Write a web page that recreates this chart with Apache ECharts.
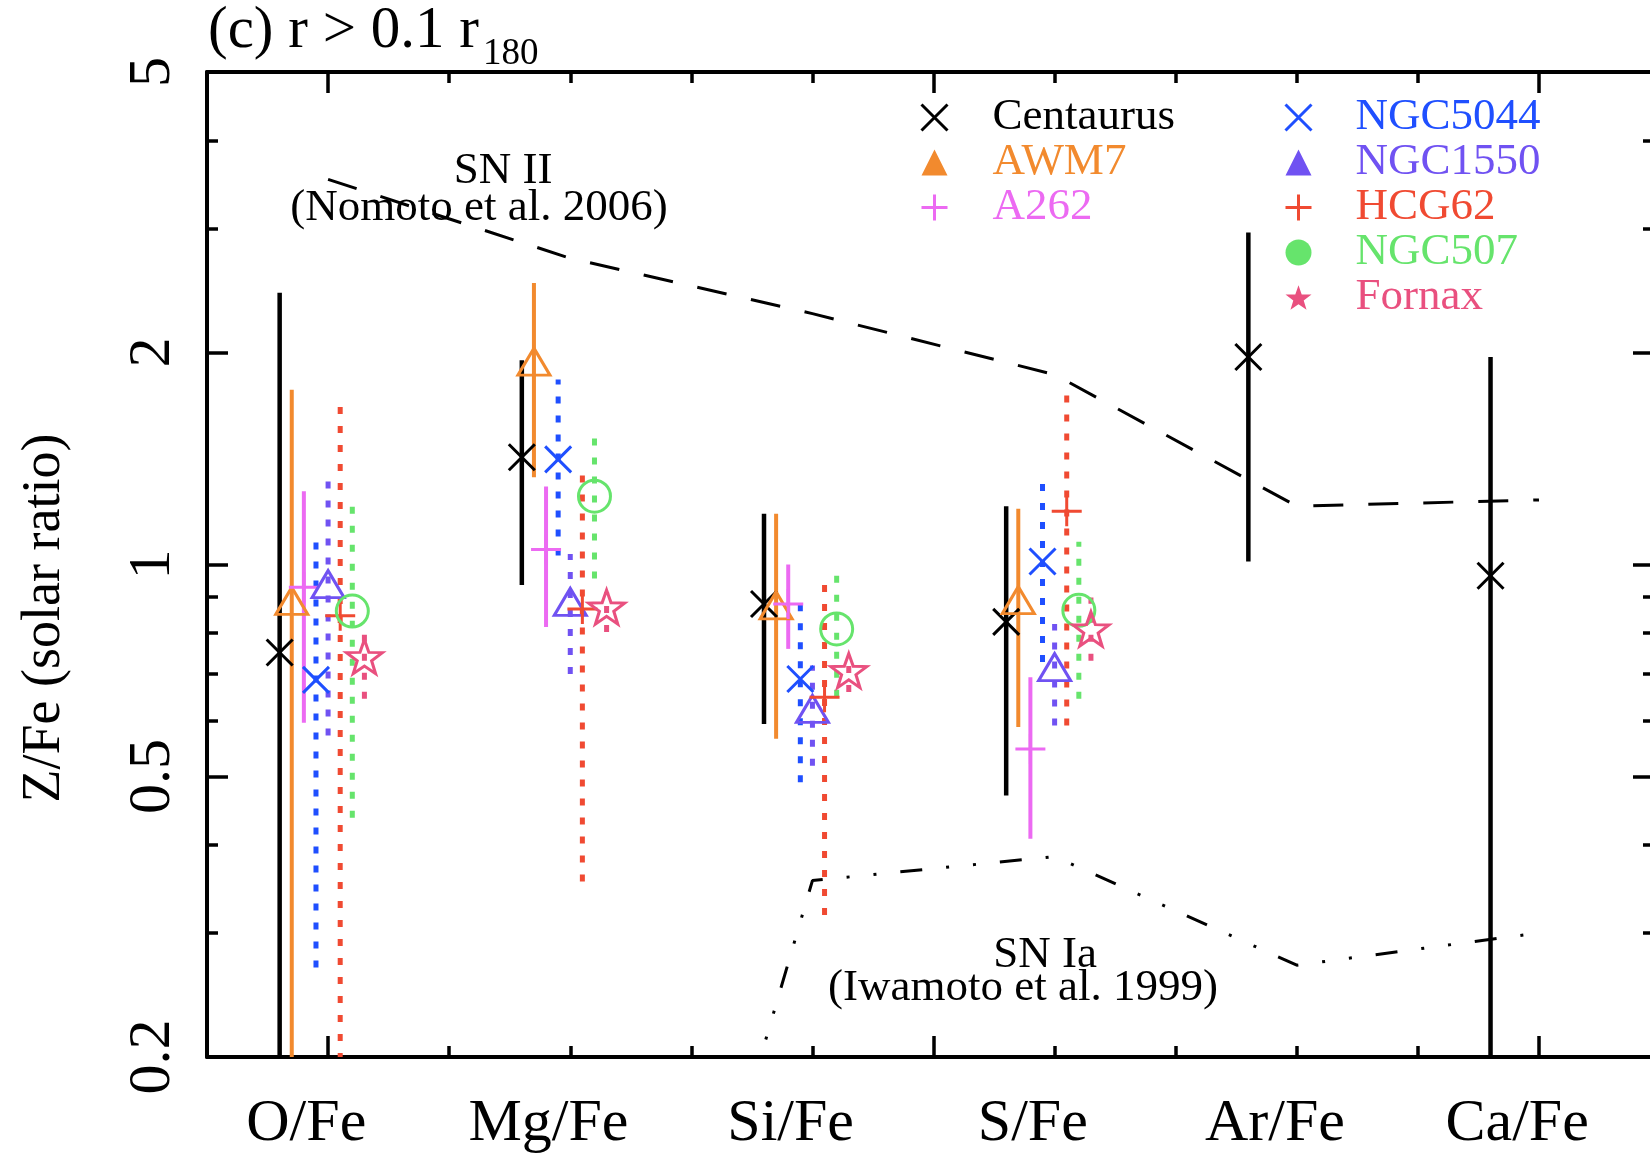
<!DOCTYPE html>
<html>
<head>
<meta charset="utf-8">
<script src="https://cdn.jsdelivr.net/npm/echarts@6/dist/echarts.min.js"></script>
<style>
  html, body { margin: 0; padding: 0; background: #ffffff; }
  #chart { width: 1650px; height: 1154px; }
</style>
</head>
<body>
<div id="chart"></div>
<script>
// ---- data ----
const ratios = ['O/Fe', 'Mg/Fe', 'Si/Fe', 'S/Fe', 'Ar/Fe', 'Ca/Fe'];
const yTickValues = [0.2, 0.5, 1, 2, 5];
const yMinorTickValues = [0.3, 0.4, 0.6, 0.7, 0.8, 0.9, 3, 4];
const xMajorTicks = [1, 6, 11];
const xMinorTicks = [2, 3, 4, 5, 7, 8, 9, 10];

// [Z/Fe, lower bound, upper bound] per ratio (solar units)
const centaurus = [[0.75, 0.1, 2.43], [1.42, 0.935, 1.95], [0.879, 0.594, 1.18], [0.829, 0.47, 1.21], [1.97, 1.01, 2.96], [0.964, 0.1, 1.97]];
const awm7      = [[0.888, 0.1, 1.77], [1.94, 1.33, 2.51], [0.875, 0.566, 1.18], [0.89, 0.588, 1.2]];
const a262      = [[0.928, 0.596, 1.27], [1.05, 0.815, 1.29], [0.879, 0.759, 1.0], [0.547, 0.408, 0.692]];
const ngc5044   = [[0.686, 0.268, 1.10], [1.41, 1.03, 1.83], [0.688, 0.491, 0.885], [1.01, 0.727, 1.32]];
const ngc1550   = [[0.938, 0.572, 1.33], [0.885, 0.699, 1.035], [0.624, 0.518, 0.719], [0.715, 0.591, 0.823]];
const hcg62     = [[0.846, 0.1, 1.73], [0.865, 0.355, 1.36], [0.648, 0.318, 0.945], [1.19, 0.591, 1.77]];
const ngc507    = [[0.859, 0.437, 1.23], [1.25, 0.955, 1.52], [0.81, 0.649, 0.964], [0.861, 0.645, 1.077]];
const fornax    = [[0.74, 0.645, 0.823], [0.87, 0.802, 0.914], [0.707, 0.659, 0.743], [0.81, 0.73, 0.898]];

// supernova yield models (Z/Fe, solar units)
const snII = [3.52, 2.72, 2.27, 1.86, 1.21, 1.235];
const snIa = [0.03, 0.024, 0.356, 0.385, 0.27, 0.30];

// ---- layout constants ----
const SERIF = '"Liberation Serif", "Times New Roman", serif';
const X_MAX = 11.95;
const GROUP_SPACING = 2;      // x distance between ratios
const GROUP_START = 0.6;      // x of first cluster inside a ratio slot
const CLUSTER_STEP = 0.1;     // x step between clusters
const MODEL_OFFSET = 1;       // x of model curves inside a ratio slot
const LABEL_OFFSET = 0.82;    // x of ratio label inside a slot

const PATH_X = 'path://M0,0L10,10M10,0L0,10';
const PATH_PLUS = 'path://M5,0L5,10M0,5L10,5';
const PATH_STAR = 'path://M10,0L12.35,6.76L19.51,6.91L13.8,11.24L15.88,18.09L10,14L4.12,18.09L6.2,11.24L0.49,6.91L7.65,6.76Z';
const DOTS = [7, 12];

const clusters = [
  { name: 'Centaurus', values: centaurus, color: '#000000', barWidth: 4.5, dash: 'solid', symbol: PATH_X,    size: 26,       legendIcon: PATH_X,     legendFilled: false },
  { name: 'AWM7',      values: awm7,      color: '#F28A2E', barWidth: 4,   dash: 'solid', symbol: 'triangle', size: [32, 27], legendIcon: 'triangle', legendFilled: true },
  { name: 'A262',      values: a262,      color: '#EC6AF2', barWidth: 4,   dash: 'solid', symbol: PATH_PLUS, size: 30,       legendIcon: PATH_PLUS,  legendFilled: false },
  { name: 'NGC5044',   values: ngc5044,   color: '#1F4FFF', barWidth: 5,   dash: DOTS,    symbol: PATH_X,    size: 26,       legendIcon: PATH_X,     legendFilled: false },
  { name: 'NGC1550',   values: ngc1550,   color: '#7052F2', barWidth: 5,   dash: DOTS,    symbol: 'triangle', size: [32, 27], legendIcon: 'triangle', legendFilled: true },
  { name: 'HCG62',     values: hcg62,     color: '#F04A32', barWidth: 5,   dash: DOTS,    symbol: PATH_PLUS, size: 30,       legendIcon: PATH_PLUS,  legendFilled: false },
  { name: 'NGC507',    values: ngc507,    color: '#66E46C', barWidth: 5,   dash: DOTS,    symbol: 'circle',  size: 32,       legendIcon: 'circle',   legendFilled: true },
  { name: 'Fornax',    values: fornax,    color: '#E9507F', barWidth: 5,   dash: DOTS,    symbol: PATH_STAR, size: [36, 34], legendIcon: PATH_STAR,  legendFilled: true }
];

const clusterX = (ratioIndex, clusterIndex) => GROUP_SPACING * ratioIndex + GROUP_START + CLUSTER_STEP * clusterIndex;

// ---- series ----
const errorBarSeries = clusters.map((c, ci) => ({
  name: c.name,
  type: 'custom',
  xAxisIndex: 0,
  yAxisIndex: 0,
  clip: true,
  silent: true,
  z: 2,
  encode: { x: 0, y: [1, 2] },
  data: c.values.map((v, ri) => [clusterX(ri, ci), v[1], v[2]]),
  renderItem: (params, api) => {
    const x = api.value(0);
    const lo = api.coord([x, api.value(1)]);
    const hi = api.coord([x, api.value(2)]);
    return {
      type: 'line',
      shape: { x1: lo[0], y1: lo[1], x2: hi[0], y2: hi[1] },
      style: {
        stroke: c.color,
        lineWidth: c.barWidth,
        lineDash: c.dash === 'solid' ? null : c.dash,
        lineCap: 'butt'
      }
    };
  }
}));

const markerSeries = clusters.map((c, ci) => ({
  name: c.name,
  type: 'scatter',
  xAxisIndex: 0,
  yAxisIndex: 0,
  silent: true,
  z: 3,
  symbol: c.symbol,
  symbolSize: c.size,
  itemStyle: { color: 'rgba(0,0,0,0)', borderColor: c.color, borderWidth: 3, opacity: 1 },
  data: c.values.map((v, ri) => [clusterX(ri, ci), v[0]])
}));

const modelSeries = [
  {
    name: 'SN II',
    type: 'line',
    xAxisIndex: 0, yAxisIndex: 0,
    silent: true, clip: true, z: 1,
    symbol: 'none',
    lineStyle: { color: '#000000', width: 3, type: [30, 25] },
    data: snII.map((v, i) => [GROUP_SPACING * i + MODEL_OFFSET, v])
  },
  {
    name: 'SN Ia',
    type: 'line',
    xAxisIndex: 0, yAxisIndex: 0,
    silent: true, clip: true, z: 1,
    symbol: 'none',
    lineStyle: { color: '#000000', width: 3, type: [22, 24, 3, 24, 3, 24] },
    data: snIa.map((v, i) => [GROUP_SPACING * i + MODEL_OFFSET, v])
  }
];

// ---- axes (gnuplot-style boxed frame with inward mirrored ticks) ----
const LINE = { color: '#000000', width: 4 };
const TICK_STYLE = { color: '#000000', width: 3.5 };

function xAxis(position, ticks, len, withLine, withLabels) {
  return {
    type: 'value', min: 0, max: X_MAX, position,
    axisLine: { show: withLine, onZero: false, lineStyle: LINE },
    axisTick: { show: true, inside: true, length: len, customValues: ticks, lineStyle: TICK_STYLE },
    axisLabel: withLabels ? {
      show: true,
      customValues: ratios.map((r, i) => GROUP_SPACING * i + LABEL_OFFSET),
      formatter: (val) => ratios[Math.round((val - LABEL_OFFSET) / GROUP_SPACING)],
      fontFamily: SERIF, fontSize: 60, lineHeight: 60, color: '#000000', margin: 37
    } : { show: false },
    splitLine: { show: false },
    minorTick: { show: false }
  };
}

function yAxis(position, ticks, len, withLine, withLabels) {
  return {
    type: 'log', logBase: 10, min: 0.2, max: 5, position,
    axisLine: { show: withLine, onZero: false, lineStyle: LINE },
    axisTick: { show: true, inside: true, length: len, customValues: ticks, lineStyle: TICK_STYLE },
    axisLabel: withLabels ? {
      show: true,
      customValues: yTickValues,
      rotate: 90,
      formatter: (val) => String(+Number(val).toPrecision(3)),
      fontFamily: SERIF, fontSize: 60, lineHeight: 60, color: '#000000', margin: 24
    } : { show: false },
    splitLine: { show: false },
    minorTick: { show: false }
  };
}

// ---- legend ----
function legendItems(names) {
  return names.map(n => {
    const c = clusters.find(k => k.name === n);
    return {
      name: n,
      icon: c.legendIcon,
      itemStyle: c.legendFilled
        ? { color: c.color, borderWidth: 0 }
        : { color: 'rgba(0,0,0,0)', borderColor: c.color, borderWidth: 3 },
      textStyle: { color: c.color }
    };
  });
}
const legendBase = {
  orient: 'vertical', padding: 0, itemGap: 0, itemWidth: 26, itemHeight: 26,
  selectedMode: false,
  textStyle: { fontFamily: SERIF, fontSize: 45, lineHeight: 44 }
};

const option = {
  animation: false,
  backgroundColor: '#ffffff',
  grid: { left: 207, top: 72, width: 1447, height: 985, outerBoundsMode: 'none', containLabel: false },
  xAxis: [
    xAxis('bottom', xMajorTicks, 21, true, true),
    xAxis('bottom', xMinorTicks, 11, false, false),
    xAxis('top', xMajorTicks, 21, true, false),
    xAxis('top', xMinorTicks, 11, false, false)
  ],
  yAxis: [
    yAxis('left', yTickValues, 21, true, true),
    yAxis('left', yMinorTickValues, 11, false, false),
    yAxis('right', yTickValues, 21, true, false),
    yAxis('right', yMinorTickValues, 11, false, false)
  ],
  legend: [
    Object.assign({}, legendBase, {
      left: 920, top: 95,
      textStyle: Object.assign({}, legendBase.textStyle, { padding: [0, 0, 0, 40] }),
      data: legendItems(['Centaurus', 'AWM7', 'A262'])
    }),
    Object.assign({}, legendBase, {
      left: 1284, top: 95,
      textStyle: Object.assign({}, legendBase.textStyle, { padding: [0, 0, 0, 39] }),
      data: legendItems(['NGC5044', 'NGC1550', 'HCG62', 'NGC507', 'Fornax'])
    })
  ],
  graphic: [
    { type: 'text', x: 208, y: 31, silent: true,
      style: { text: '(c) r > 0.1 r', fontFamily: SERIF, fontSize: 59, fill: '#000', align: 'left', verticalAlign: 'middle' } },
    { type: 'text', x: 483, y: 54, silent: true,
      style: { text: '180', fontFamily: SERIF, fontSize: 37, fill: '#000', align: 'left', verticalAlign: 'middle' } },
    { type: 'text', x: 45, y: 618, rotation: Math.PI / 2, silent: true,
      style: { text: 'Z/Fe (solar ratio)', fontFamily: SERIF, fontSize: 54, fill: '#000', align: 'center', verticalAlign: 'middle' } },
    { type: 'text', x: 503, y: 171, silent: true, z: 10,
      style: { text: 'SN II', fontFamily: SERIF, fontSize: 45, fill: '#000', align: 'center', verticalAlign: 'middle' } },
    { type: 'text', x: 479, y: 208, silent: true, z: 10,
      style: { text: '(Nomoto et al. 2006)', fontFamily: SERIF, fontSize: 45, fill: '#000', align: 'center', verticalAlign: 'middle' } },
    { type: 'text', x: 1045, y: 955, silent: true, z: 10,
      style: { text: 'SN Ia', fontFamily: SERIF, fontSize: 45, fill: '#000', align: 'center', verticalAlign: 'middle' } },
    { type: 'text', x: 1023, y: 988, silent: true, z: 10,
      style: { text: '(Iwamoto et al. 1999)', fontFamily: SERIF, fontSize: 45, fill: '#000', align: 'center', verticalAlign: 'middle' } }
  ],
  series: [].concat(modelSeries, errorBarSeries, markerSeries)
};

const chart = echarts.init(document.getElementById('chart'), null, { renderer: 'canvas' });
chart.setOption(option);
</script>
</body>
</html>
